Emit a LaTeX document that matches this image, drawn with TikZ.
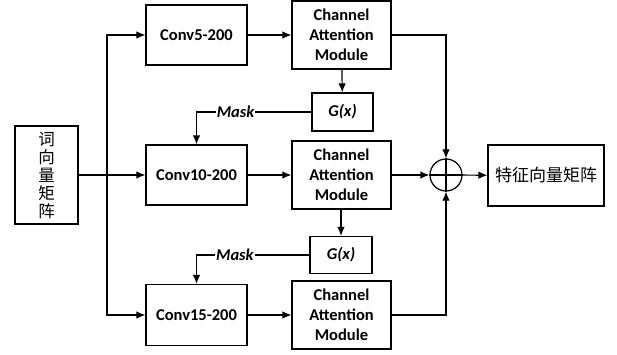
\documentclass[tikz,border=0pt]{standalone}
\usepackage{fontspec}
\setmainfont{Carlito}
\newfontfamily\cjk{Noto Sans CJK SC}
\usetikzlibrary{arrows.meta}

\begin{document}
\begin{tikzpicture}[x=1pt, y=-1pt, line width=1.2pt,
        box/.style = {draw, rectangle, font=\bfseries\fontsize{16.5}{20}\selectfont, align=center, inner sep=0pt},
        arr/.style = {-{Latex[length=9pt,width=7.5pt]}}]
        \useasboundingbox (0,0) rectangle (617,355);
        % input and convolution branches
        \node[box, minimum width=63pt, minimum height=98pt, font=\cjk\fontsize{16.5}{18}\selectfont] (wv) at (46.5,175) {词\\向\\量\\矩\\阵};
        \node[box, minimum width=101pt, minimum height=60pt] (conv5) at (196.5,35) {Conv5-200};
        \node[box, minimum width=101pt, minimum height=60pt] (conv10) at (196.5,175) {Conv10-200};
        \node[box, minimum width=101pt, minimum height=61pt] (conv15) at (196.5,315) {Conv15-200};
        % attention modules
        \node[box, minimum width=99pt, minimum height=68pt] (cam1) at (341.5,35) {Channel\\Attention\\Module};
        \node[box, minimum width=99pt, minimum height=68pt] (cam2) at (341.5,175) {Channel\\Attention\\Module};
        \node[box, minimum width=99pt, minimum height=68pt] (cam3) at (341.5,315) {Channel\\Attention\\Module};
        \node[box, minimum width=61pt, minimum height=38pt, font=\bfseries\itshape\fontsize{16.5}{20}\selectfont] (g1) at (342.5,112) {G(x)};
        \node[box, minimum width=62pt, minimum height=37pt, font=\bfseries\itshape\fontsize{16.5}{20}\selectfont] (g2) at (341,255) {G(x)};
        % fusion
        \node[draw, circle, minimum size=32pt, inner sep=0pt] (sum) at (446,175) {};
        \draw (sum.north) -- (sum.south) (sum.west) -- (sum.east);
        \node[box, minimum width=116pt, minimum height=61pt, font=\cjk\fontsize{17}{20}\selectfont] (out) at (546,175.5) {特征向量矩阵};
        \coordinate (split) at (107,175);

        \draw[arr] (wv.east) -- (conv10.west);
        \draw[arr] (split) |- (conv5.west);
        \draw[arr] (split) |- (conv15.west);
        \draw[arr] (conv5) -- (cam1);
        \draw[arr] (conv10) -- (cam2);
        \draw[arr] (conv15) -- (cam3);
        \draw[arr] (cam1) -- (g1);
        \draw[arr] (cam2.south -| g2.north) -- (g2.north);
        \draw[arr] (g1.west) -| node[pos=0.33, fill=white, inner sep=1pt, font=\bfseries\itshape\fontsize{16.5}{20}\selectfont] {Mask} (conv10.north);
        \draw[arr] (g2.west) -| node[pos=0.33, fill=white, inner sep=1pt, font=\bfseries\itshape\fontsize{16.5}{20}\selectfont] {Mask} (conv15.north);
        \draw[arr] (cam1.east) -| (sum.north);
        \draw[arr] (cam3.east) -| (sum.south);
        \draw[arr] (cam2) -- (sum);
        \draw[arr] (sum) -- (out);
\end{tikzpicture}
\end{document}
